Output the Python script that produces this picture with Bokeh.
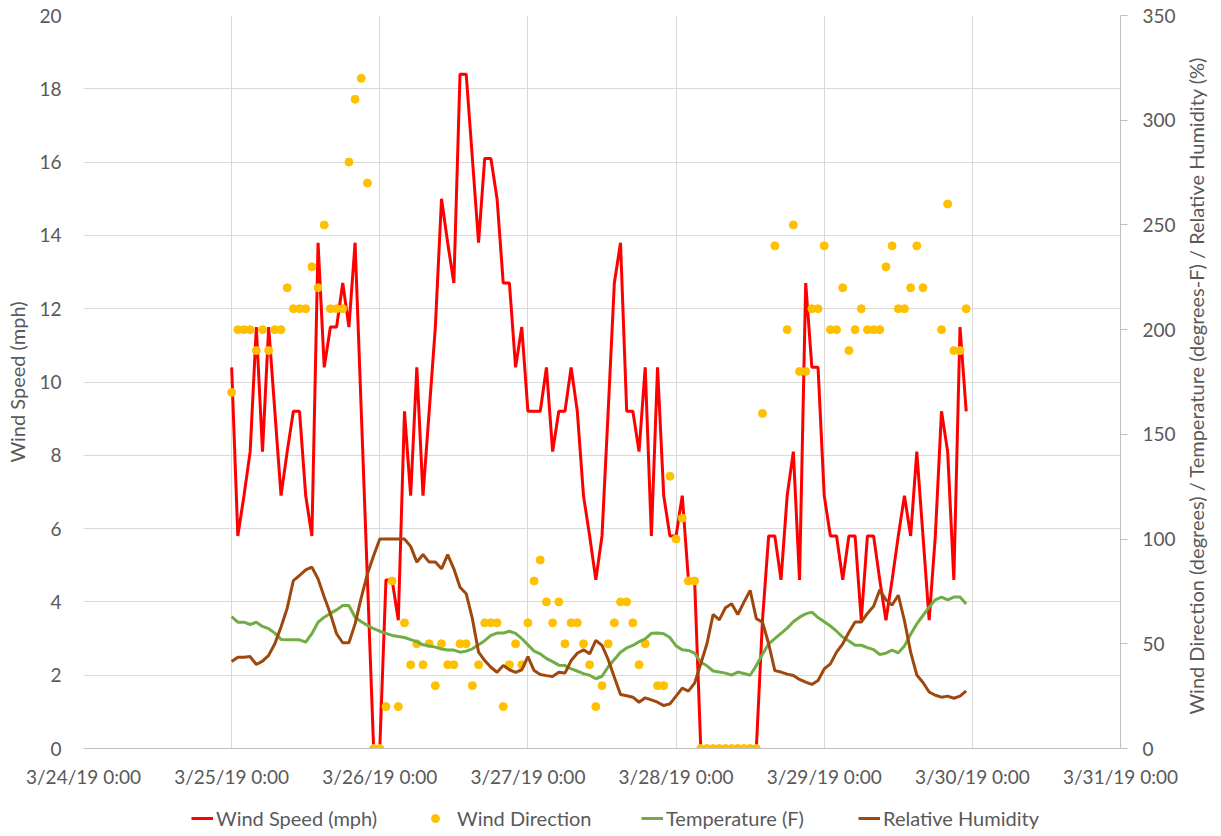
import math
import numpy as np
from bokeh.plotting import figure
from bokeh.layouts import column, row
from bokeh.models import (Range1d, LinearAxis, FixedTicker, Legend, LegendItem,
                          ColumnDataSource, Label)
from bokeh.embed import file_html
from bokeh.resources import INLINE

# ---------------- data ----------------
tick_labels = ["3/24/19 0:00", "3/25/19 0:00", "3/26/19 0:00", "3/27/19 0:00",
               "3/28/19 0:00", "3/29/19 0:00", "3/30/19 0:00", "3/31/19 0:00"]
first_obs_day = 1.0          # 3/25/19 0:00, in days after 3/24/19 0:00
obs_step_hours = 1.0         # hourly observations

wind_speed = [
    10.4, 5.8, 6.9, 8.1, 11.5, 8.1, 11.5, 9.2, 6.9, 8.1, 9.2, 9.2,
    6.9, 5.8, 13.8, 10.4, 11.5, 11.5, 12.7, 11.5, 13.8, 9.2, 4.6, 0.0,
    0.0, 4.6, 4.6, 3.5, 9.2, 6.9, 10.4, 6.9, 9.2, 11.5, 15.0, 13.8,
    12.7, 18.4, 18.4, 16.1, 13.8, 16.1, 16.1, 15.0, 12.7, 12.7, 10.4, 11.5,
    9.2, 9.2, 9.2, 10.4, 8.1, 9.2, 9.2, 10.4, 9.2, 6.9, 5.8, 4.6,
    5.8, 9.2, 12.7, 13.8, 9.2, 9.2, 8.1, 10.4, 5.8, 10.4, 6.9, 5.8,
    5.8, 6.9, 4.6, 4.6, 0.0, 0.0, 0.0, 0.0, 0.0, 0.0, 0.0, 0.0,
    0.0, 0.0, 3.5, 5.8, 5.8, 4.6, 6.9, 8.1, 4.6, 12.7, 10.4, 10.4,
    6.9, 5.8, 5.8, 4.6, 5.8, 5.8, 3.5, 5.8, 5.8, 4.6, 3.5, 4.6,
    5.8, 6.9, 5.8, 8.1, 5.8, 3.5, 5.8, 9.2, 8.1, 4.6, 11.5, 9.2,
]

wind_direction = [
    170, 200, 200, 200, 190, 200, 190, 200, 200, 220, 210, 210,
    210, 230, 220, 250, 210, 210, 210, 280, 310, 320, 270, 0,
    0, 20, 80, 20, 60, 40, 50, 40, 50, 30, 50, 40,
    40, 50, 50, 30, 40, 60, 60, 60, 20, 40, 50, 40,
    60, 80, 90, 70, 60, 70, 50, 60, 60, 50, 40, 20,
    30, 50, 60, 70, 70, 60, 40, 50, None, 30, 30, 130,
    100, 110, 80, 80, 0, 0, 0, 0, 0, 0, 0, 0,
    0, 0, 160, None, 240, None, 200, 250, 180, 180, 210, 210,
    240, 200, 200, 220, 190, 200, 210, 200, 200, 200, 230, 240,
    210, 210, 220, 240, 220, None, None, 200, 260, 190, 190, 210,
]

temperature = [
    63.0, 60.3, 60.3, 59.2, 60.3, 58.3, 57.2, 55.1, 52.1, 51.9, 51.9, 51.9,
    50.8, 54.8, 60.3, 62.7, 64.5, 66.2, 68.3, 68.3, 62.7, 60.5, 58.8, 57.2,
    56.0, 55.0, 54.0, 53.5, 53.0, 52.0, 51.0, 49.5, 49.0, 48.4, 47.5, 47.0,
    47.0, 46.0, 46.5, 47.6, 49.5, 51.5, 54.0, 55.1, 55.1, 56.0, 55.0, 52.5,
    49.5, 46.5, 45.2, 43.0, 41.5, 39.8, 39.6, 38.0, 37.0, 35.7, 35.0, 33.3,
    34.5, 39.0, 42.5, 46.0, 48.0, 49.2, 51.0, 52.4, 55.0, 55.2, 54.8, 53.0,
    49.0, 47.1, 46.8, 45.5, 41.2, 39.5, 37.0, 36.5, 36.0, 35.0, 36.5, 35.8,
    35.0, 39.6, 45.0, 50.0, 52.5, 55.0, 57.5, 60.5, 62.7, 64.3, 65.1, 62.5,
    60.5, 58.5, 56.0, 53.2, 51.3, 49.3, 49.3, 48.2, 47.2, 44.9, 45.5, 47.0,
    45.7, 49.0, 54.5, 59.5, 63.5, 67.5, 71.0, 72.3, 71.0, 72.3, 72.3, 69.0,
]

humidity = [
    41.5, 43.6, 43.6, 43.9, 40.1, 41.7, 44.5, 50.0, 58.0, 67.0, 80.2, 82.6,
    85.3, 86.6, 81.0, 72.3, 64.3, 54.8, 50.5, 50.5, 59.5, 72.0, 83.4, 92.0,
    100.0, 100.0, 100.0, 100.0, 100.0, 96.5, 89.0, 92.6, 89.0, 89.0, 85.8, 92.6,
    85.8, 77.0, 73.9, 62.0, 46.0, 42.0, 38.8, 36.4, 39.6, 37.6, 36.4, 37.6,
    43.9, 37.2, 35.3, 34.8, 34.4, 36.4, 36.0, 42.0, 45.5, 47.1, 45.2, 51.6,
    49.2, 42.5, 34.0, 25.8, 25.2, 24.5, 22.1, 24.2, 23.2, 22.1, 20.5, 21.3,
    25.0, 28.8, 27.4, 31.2, 40.4, 50.0, 64.0, 61.4, 67.2, 69.1, 64.0, 69.9,
    75.5, 62.0, 60.3, 50.0, 37.2, 36.5, 35.5, 34.9, 33.0, 31.7, 30.6, 32.5,
    38.0, 40.4, 46.0, 50.0, 55.5, 60.4, 60.4, 64.5, 67.9, 75.8, 71.0, 68.5,
    73.2, 61.0, 46.0, 35.1, 31.5, 27.0, 25.4, 24.5, 25.0, 24.0, 25.0, 27.5,
]

left_ticks = list(range(0, 21, 2))
right_ticks = list(range(0, 351, 50))
left_title = "Wind Speed (mph)"
right_title = "Wind Direction (degrees) / Temperature (degrees-F) / Relative Humidity (%)"
series_names = ["Wind Speed (mph)", "Wind Direction", "Temperature (F)", "Relative Humidity"]

# ---------------- styling ----------------
FONT = "Lato"
TXT = "#595959"
GRID = "#D9D9D9"
AXIS = "#BFBFBF"
RED = "#FF0000"
GOLD = "#FFC000"
GREEN = "#70AD47"
BROWN = "#9E480E"

n = len(wind_speed)
x = first_obs_day + np.arange(n) * obs_step_hours / 24.0

src = ColumnDataSource(dict(x=x, ws=wind_speed, temp=temperature, rh=humidity))
wd = np.array([np.nan if v is None else v for v in wind_direction], dtype=float)
mask = ~np.isnan(wd)
src_wd = ColumnDataSource(dict(x=x[mask], wd=wd[mask]))

# page layout (Bokeh's page has no body margin)
W_MAIN, H_MAIN = 1180, 806
H_LEG = 30
W_TITLE, H_TITLE = 30, 770
FR_LEFT, FR_RIGHT, FR_TOP, FR_BOTTOM = 83, 1120, 15, 748

p = figure(width=W_MAIN, height=H_MAIN, output_backend="svg", toolbar_location=None,
           x_range=Range1d(0, len(tick_labels) - 1), y_range=Range1d(0, 20),
           min_border_left=FR_LEFT, min_border_right=W_MAIN - FR_RIGHT,
           min_border_top=FR_TOP, min_border_bottom=H_MAIN - FR_BOTTOM)
p.outline_line_color = None
p.background_fill_color = "white"
p.border_fill_color = "white"
p.extra_y_ranges = {"right": Range1d(0, 350)}

# x axis
xa = p.xaxis[0]
xa.ticker = FixedTicker(ticks=list(range(len(tick_labels))))
xa.major_label_overrides = {i: lab for i, lab in enumerate(tick_labels)}
xa.axis_line_color = AXIS
xa.major_tick_line_color = None
xa.major_tick_out = 0
xa.major_tick_in = 0
xa.minor_tick_line_color = None
xa.major_label_standoff = 16
xa.major_label_text_font = FONT
xa.major_label_text_font_size = "19px"
xa.major_label_text_color = TXT

# left axis
ya = p.yaxis[0]
ya.ticker = FixedTicker(ticks=left_ticks)
ya.axis_line_color = None
ya.major_tick_line_color = None
ya.major_tick_out = 0
ya.major_tick_in = 0
ya.minor_tick_line_color = None
ya.major_label_standoff = 22
ya.major_label_text_font = FONT
ya.major_label_text_font_size = "19px"
ya.major_label_text_color = TXT
ya.axis_label = left_title
ya.axis_label_text_font = FONT
ya.axis_label_text_font_size = "20px"
ya.axis_label_text_font_style = "normal"
ya.axis_label_text_color = TXT
ya.axis_label_standoff = 7

# right axis
ra = LinearAxis(y_range_name="right", ticker=FixedTicker(ticks=right_ticks))
ra.axis_line_color = AXIS
ra.major_tick_line_color = AXIS
ra.major_tick_out = 7
ra.major_tick_in = 0
ra.minor_tick_line_color = None
ra.major_label_standoff = 15
ra.major_label_text_font = FONT
ra.major_label_text_font_size = "19px"
ra.major_label_text_color = TXT
p.add_layout(ra, "right")

# grids
p.xgrid.ticker = FixedTicker(ticks=list(range(len(tick_labels))))
p.xgrid.grid_line_color = GRID
p.ygrid.ticker = FixedTicker(ticks=left_ticks)
p.ygrid.grid_line_color = GRID

# series
p.line("x", "ws", source=src, line_color=RED, line_width=3)
p.scatter("x", "wd", source=src_wd, y_range_name="right", size=8,
          fill_color=GOLD, line_color=GOLD)
p.line("x", "temp", source=src, y_range_name="right", line_color=GREEN, line_width=3)
p.line("x", "rh", source=src, y_range_name="right", line_color=BROWN, line_width=3)

# ---------------- right axis title (reads bottom-to-top) ----------------
tf = figure(width=W_TITLE, height=H_TITLE, output_backend="svg", toolbar_location=None,
            x_range=Range1d(0, 1), y_range=Range1d(0, 1),
            x_axis_type=None, y_axis_type=None, min_border=0)
tf.outline_line_color = None
tf.xgrid.visible = False
tf.ygrid.visible = False
tf.add_layout(Label(x=0.5, y=0.5, text=right_title, angle=math.pi / 2,
                    text_align="center", text_baseline="middle",
                    text_font=FONT, text_font_size="20px", text_color=TXT))

# ---------------- legend strip ----------------
lf = figure(width=W_MAIN, height=H_LEG, output_backend="svg", toolbar_location=None,
            x_range=Range1d(0, 1), y_range=Range1d(0, 1),
            x_axis_type=None, y_axis_type=None,
            min_border_left=FR_LEFT, min_border_right=W_MAIN - FR_RIGHT,
            min_border_top=0, min_border_bottom=0)
lf.outline_line_color = None
lf.xgrid.visible = False
lf.ygrid.visible = False
# key renderers sit outside the strip's visible range; only their legend swatches show
off = ColumnDataSource(dict(x=[-3.0, -2.0], y=[-3.0, -2.0]))
g_ws = lf.line("x", "y", source=off, line_color=RED, line_width=3)
g_wd = lf.scatter("x", "y", source=off, size=8, fill_color=GOLD, line_color=GOLD)
g_t = lf.line("x", "y", source=off, line_color=GREEN, line_width=3)
g_rh = lf.line("x", "y", source=off, line_color=BROWN, line_width=3)

entries = [(series_names[0], g_ws, 108, 22, 3), (series_names[1], g_wd, 342, 20, 12),
           (series_names[2], g_t, 558, 22, 3), (series_names[3], g_rh, 775, 22, 3)]
for label, rend, xoff, gw, st in entries:
    lg = Legend(items=[LegendItem(label=label, renderers=[rend], index=0)],
                location=(xoff, 6), orientation="horizontal")
    lg.background_fill_alpha = 0
    lg.border_line_color = None
    lg.padding = 0
    lg.margin = 0
    lg.glyph_width = gw
    lg.glyph_height = 20
    lg.label_height = 20
    lg.label_standoff = st
    lg.label_text_font = FONT
    lg.label_text_font_size = "20px"
    lg.label_text_color = TXT
    lf.add_layout(lg, "center")

layout = row(column(p, lf, spacing=0), tf, spacing=0)
open("out.html", "w").write(file_html(layout, INLINE))
